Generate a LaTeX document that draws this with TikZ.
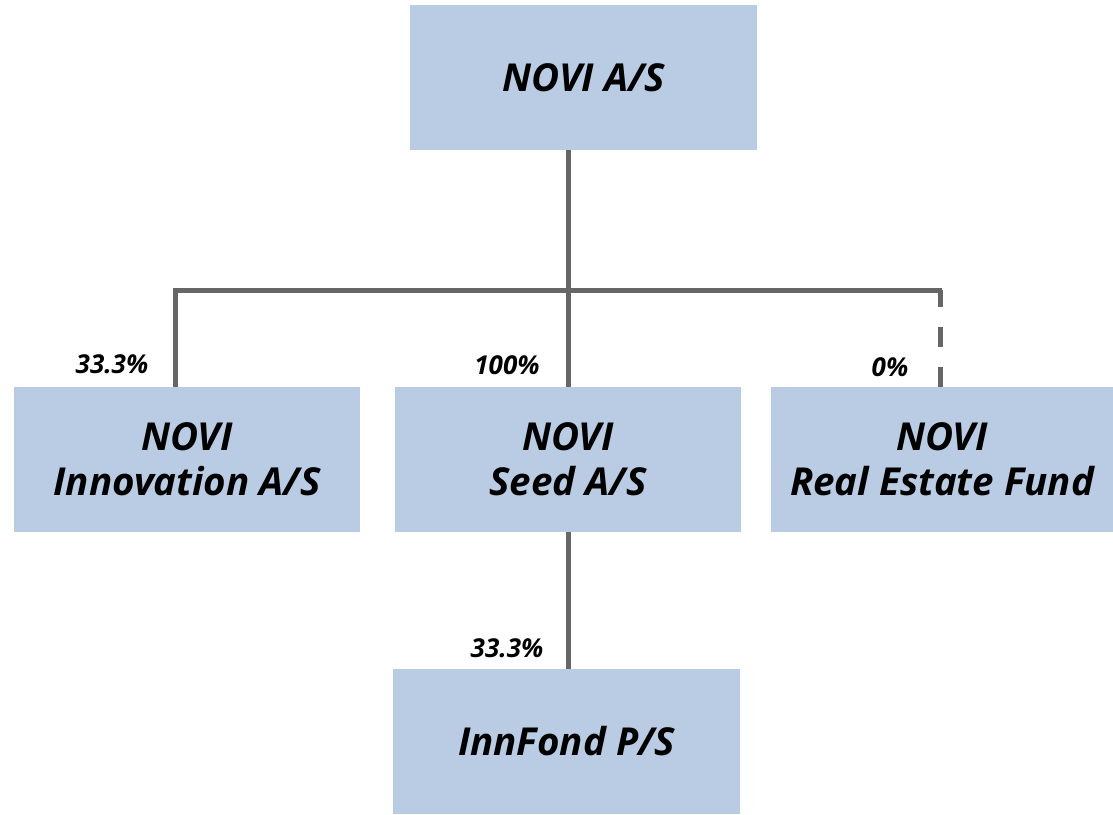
\documentclass[tikz,border=0pt]{standalone}
\usepackage{fontspec}
\setmainfont{Open Sans}
\begin{document}
\begin{tikzpicture}[x=1pt,y=-1pt,
  box/.style={fill=boxblue, draw=none, inner sep=0pt, align=center,
    font=\fontsize{38.5}{45}\selectfont\bfseries\itshape},
  conn/.style={draw=linegray, line width=5pt},
  pct/.style={font=\fontsize{26}{30}\selectfont\bfseries\itshape, inner sep=0pt}]
\definecolor{boxblue}{HTML}{B9CCE3}
\definecolor{linegray}{HTML}{666666}
\useasboundingbox (0,0) rectangle (1113,814);
\fill[white] (0,0) rectangle (1113,814);
% boxes
\node[box, minimum width=347pt, minimum height=145pt] (top) at (583.5,77.5) {NOVI A/S};
\node[box, minimum width=346pt, minimum height=145pt] (inno) at (187,459.5) {NOVI\\Innovation A/S};
\node[box, minimum width=346pt, minimum height=145pt] (seed) at (568,459.5) {NOVI\\Seed A/S};
\node[box, minimum width=342pt, minimum height=145pt] (real) at (942,459.5) {NOVI\\Real Estate Fund};
\node[box, minimum width=347pt, minimum height=145pt] (fond) at (566.5,741.5) {InnFond P/S};
% junction coordinates
\coordinate (jl) at (175,290);
\coordinate (jr) at (942,290);
\coordinate (jm) at (568,290);
% connectors
\draw[conn] (top.south -| jm) -- (seed.north -| jm);
\draw[conn] (inno.north -| jl) -- (jl) -- (jr);
\draw[conn, dash pattern=on 20pt off 20pt] (real.north -| 940,0) -- (940,290);
\draw[conn] (seed.south -| jm) -- (fond.north -| jm);
% percentages
\node[pct] (p1) at (112,364) {33.3\%};
\node[pct] (p2) at (507,365) {100\%};
\node[pct] (p3) at (890,367) {0\%};
\node[pct] (p4) at (507,648) {33.3\%};
\end{tikzpicture}
\end{document}
